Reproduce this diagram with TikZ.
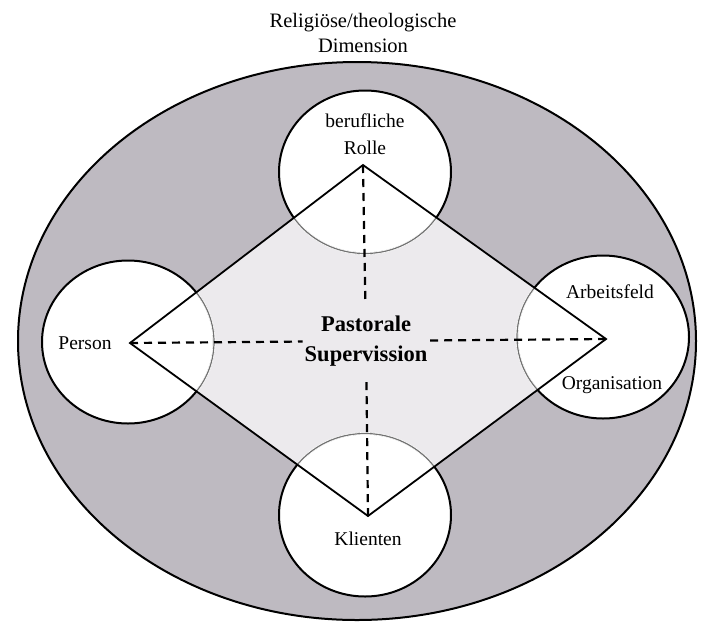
\documentclass[tikz,border=0pt]{standalone}
\usepackage{fontspec}
\setmainfont{Liberation Serif}
\usetikzlibrary{shapes.geometric}

\definecolor{ringgray}{RGB}{190,186,193}
\definecolor{diamondgray}{RGB}{236,234,237}

\begin{document}
\begin{tikzpicture}[x=1pt, y=-1pt,
        txt/.style={font=\fontsize{19.5}{27}\selectfont, align=center, inner sep=0pt},
        bubble/.style={ellipse, draw=black, line width=2pt, fill=white,
            minimum width=172pt, minimum height=163pt, inner sep=0pt}]
    \useasboundingbox (0, 0) rectangle (704, 622);

    % outer dimension
    \node [ellipse, draw=black, line width=2pt, fill=ringgray,
        minimum width=678pt, minimum height=558pt] (dimension) at (357, 341) {};
    \node [txt, text width=300pt, font=\fontsize{20.5}{25}\selectfont]
        (title) at (363, 33) {Religiöse/theologische\\Dimension};

    % tips of the diamond
    \coordinate (rolle-tip) at (363, 165);
    \coordinate (person-tip) at (130, 343);
    \coordinate (feld-tip) at (606, 339);
    \coordinate (klienten-tip) at (368, 516);

    \fill [diamondgray] (rolle-tip) -- (feld-tip) -- (klienten-tip)
        -- (person-tip) -- cycle;

    \node [bubble] (rolle) at (365, 172) {};
    \node [bubble] (person) at (128, 342) {};
    \node [bubble] (feld) at (603, 337) {};
    \node [bubble] (klienten) at (365, 515) {};

    % circle arcs inside the diamond are fainter
    \begin{scope}
        \clip (rolle-tip) -- (feld-tip) -- (klienten-tip) -- (person-tip) -- cycle;
        \foreach \n in {rolle, person, feld, klienten} {
            \draw [white, line width=2.8pt] (\n.center) ellipse (86 and 81.5);
            \draw [black!55, line width=1.2pt] (\n.center) ellipse (86 and 81.5);
        }
    \end{scope}

    \draw [line width=1.8pt, line join=miter] (rolle-tip) -- (feld-tip)
        -- (klienten-tip) -- (person-tip) -- cycle;

    \node [txt, font=\bfseries\fontsize{22.5}{30}\selectfont,
        inner xsep=2pt, inner ysep=12pt] (center) at (366, 341)
        {Pastorale\\Supervission};

    \draw [line width=2.2pt, dash pattern=on 8pt off 6pt] (rolle-tip) -- (center);
    \draw [line width=2.2pt, dash pattern=on 8pt off 6pt] (person-tip) -- (center);
    \draw [line width=2.2pt, dash pattern=on 8pt off 6pt] (feld-tip) -- (center);
    \draw [line width=2.2pt, dash pattern=on 8pt off 6pt] (klienten-tip) -- (center);

    \node [txt] (rolle-label) at (365, 134) {berufliche\\Rolle};
    \node [txt] (person-label) at (85, 343) {Person};
    \node [txt] (feld-label) at (610, 292) {Arbeitsfeld};
    \node [txt] (org-label) at (612, 385) {Organisation};
    \node [txt] (klienten-label) at (368, 539) {Klienten};
\end{tikzpicture}
\end{document}
